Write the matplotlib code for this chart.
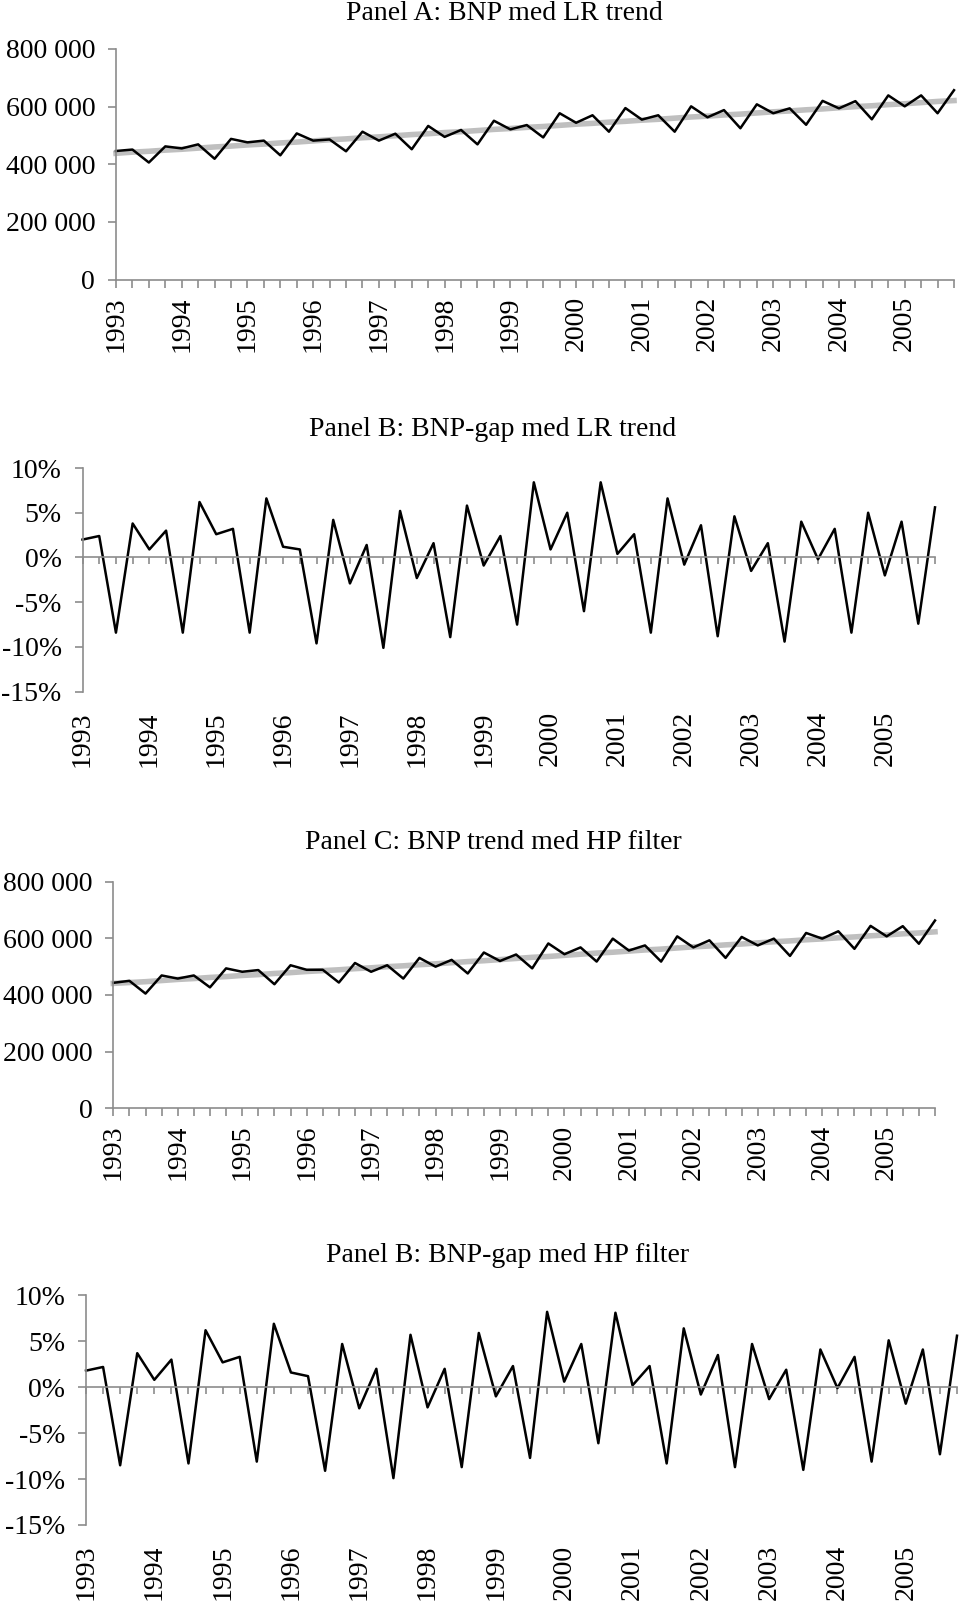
import numpy as np
import matplotlib
matplotlib.use("Agg")
import matplotlib.pyplot as plt
from matplotlib.ticker import FuncFormatter

plt.rcParams['font.family'] = ['Liberation Serif', 'DejaVu Serif']

# ! Data (quarterly, 1993Q1 - 2005Q4)
years = ["1993", "1994", "1995", "1996", "1997", "1998", "1999",
         "2000", "2001", "2002", "2003", "2004", "2005"]

bnp_lr = [446, 451, 406, 462, 455, 469, 419, 488, 476, 482,
          431, 507, 482, 486, 445, 513, 482, 506, 452, 533,
          495, 519, 469, 551, 521, 536, 493, 577, 544, 570,
          513, 595, 555, 570, 513, 601, 563, 588, 525, 608,
          577, 594, 537, 620, 594, 619, 556, 639, 601, 639,
          577, 657]
trend_lr = [438, 442, 445, 449, 452, 456, 460, 463, 467, 470,
            474, 477, 481, 485, 488, 492, 495, 499, 503, 506,
            510, 513, 517, 521, 524, 528, 531, 535, 539, 542,
            546, 549, 553, 556, 560, 564, 567, 571, 574, 578,
            582, 585, 589, 592, 596, 600, 603, 607, 610, 614,
            618, 621]
gap_lr = [2.0, 2.4, -8.4, 3.8, 0.9, 3.0, -8.4, 6.2, 2.6, 3.2,
          -8.4, 6.6, 1.2, 0.9, -9.6, 4.2, -2.9, 1.4, -10.1, 5.2,
          -2.3, 1.6, -8.9, 5.8, -0.9, 2.4, -7.5, 8.4, 0.9, 5.0,
          -6.0, 8.4, 0.4, 2.6, -8.4, 6.6, -0.8, 3.6, -8.8, 4.6,
          -1.5, 1.6, -9.4, 4.0, -0.2, 3.2, -8.4, 5.0, -2.0, 4.0,
          -7.4, 5.6]

bnp_hp = [443, 450, 405, 469, 458, 469, 427, 494, 482, 488,
          438, 505, 489, 489, 444, 513, 482, 505, 458, 531,
          500, 524, 476, 550, 520, 543, 494, 582, 544, 568,
          518, 599, 557, 575, 518, 607, 568, 593, 531, 605,
          575, 599, 538, 619, 599, 625, 563, 644, 607, 643,
          581, 663]
trend_hp = [441, 444, 447, 451, 455, 458, 462, 465, 469, 472,
            476, 479, 483, 486, 489, 493, 496, 500, 503, 507,
            510, 514, 518, 521, 525, 529, 533, 536, 540, 544,
            548, 551, 555, 559, 562, 566, 570, 573, 577, 580,
            584, 588, 591, 595, 598, 602, 605, 609, 612, 616,
            619, 623]
gap_hp = [1.8, 2.2, -8.5, 3.7, 0.8, 3.0, -8.3, 6.2, 2.7, 3.3,
          -8.1, 6.9, 1.6, 1.2, -9.1, 4.7, -2.3, 2.0, -9.9, 5.7,
          -2.2, 2.0, -8.7, 5.9, -1.0, 2.3, -7.7, 8.2, 0.6, 4.7,
          -6.1, 8.1, 0.2, 2.3, -8.3, 6.4, -0.8, 3.5, -8.7, 4.7,
          -1.3, 1.9, -9.0, 4.1, -0.1, 3.3, -8.1, 5.1, -1.8, 4.1,
          -7.3, 5.6]

W, H = 960, 1609
FS = 20
AXC = "#8c8c8c"
x = np.arange(len(bnp_lr))
year_pos = x[::4]


def rect(l, r, t, b):
    return [l / W, 1 - b / H, (r - l) / W, (b - t) / H]


def space_fmt(v, p):
    return f"{v:,.0f}".replace(",", " ")


def pct_fmt(v, p):
    return f"{v:.0f}%"


def style(ax):
    for s in ["top", "right"]:
        ax.spines[s].set_visible(False)
    for s in ["left", "bottom"]:
        ax.spines[s].set_color(AXC)
        ax.spines[s].set_linewidth(1.2)
    ax.set_xlim(0, len(x) - 1)
    ax.set_xticks(x)
    ax.tick_params(axis="both", color=AXC, width=1.2, labelsize=FS)


def level_panel(fig, r, bnp, trend):
    ax = fig.add_axes(r)
    style(ax)
    ax.plot(x, np.array(trend) * 1000, color="#bfbfbf", lw=4.0, clip_on=False)
    ax.plot(x, np.array(bnp) * 1000, color="black", lw=1.8, clip_on=False)
    ax.set_ylim(0, 800000)
    ax.set_yticks([0, 200000, 400000, 600000, 800000])
    ax.yaxis.set_major_formatter(FuncFormatter(space_fmt))
    ax.set_xticklabels([years[i // 4] if i % 4 == 0 else "" for i in x], rotation=90)
    ax.tick_params(axis="x", length=6, pad=6)
    ax.tick_params(axis="y", length=6, pad=9)
    return ax


def gap_panel(fig, r, gap):
    ax = fig.add_axes(r)
    style(ax)
    ax.plot(x, gap, color="black", lw=1.8, clip_on=False)
    ax.set_ylim(-15, 10)
    ax.set_yticks([-15, -10, -5, 0, 5, 10])
    ax.yaxis.set_major_formatter(FuncFormatter(pct_fmt))
    ax.spines["bottom"].set_position(("data", 0))
    ax.tick_params(axis="x", length=5, labelbottom=False)
    ax.tick_params(axis="y", length=6, pad=9)
    sec = ax.secondary_xaxis(0.0)
    sec.spines["bottom"].set_visible(False)
    sec.set_xticks(year_pos)
    sec.set_xticklabels(years, rotation=90)
    sec.tick_params(length=0, pad=14, labelsize=FS)
    return ax


fig = plt.figure(figsize=(W / 100, H / 100), dpi=100)

level_panel(fig, rect(116, 954, 49, 279.5), bnp_lr, trend_lr)
gap_panel(fig, rect(82.5, 935, 468, 691.7), gap_lr)
level_panel(fig, rect(113.3, 935, 881.7, 1108.3), bnp_hp, trend_hp)
gap_panel(fig, rect(86, 957, 1295.3, 1525), gap_hp)

titles = [("Panel A: BNP med LR trend", 504, 13),
          ("Panel B: BNP-gap med LR trend", 493, 429),
          ("Panel C: BNP trend med HP filter", 493, 843),
          ("Panel B: BNP-gap med HP filter", 508, 1255)]
for t, tx, ty in titles:
    fig.text(tx / W, 1 - ty / H, t, ha="center", va="center", fontsize=FS)

fig.savefig("out.png", dpi=100)
